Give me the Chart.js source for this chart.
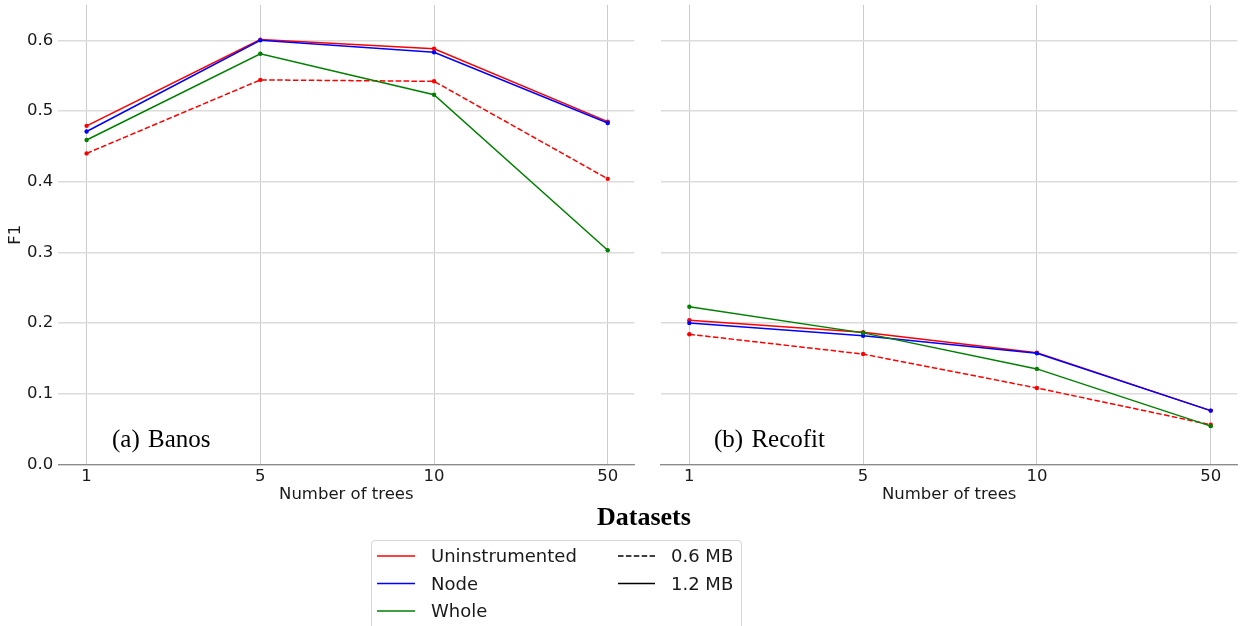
<!DOCTYPE html>
<html>
<head>
<meta charset="utf-8">
<script src="https://cdn.jsdelivr.net/npm/chart.js@4"></script>
<style>
  html, body { margin: 0; padding: 0; background: #ffffff; }
  body { width: 1245px; height: 626px; position: relative; overflow: hidden; }
  canvas { position: absolute; top: 0; }
  .ann { position: absolute; font-family: "Liberation Serif", "DejaVu Serif", serif; color: #000; white-space: nowrap; line-height: 1; }
  .leg { position: absolute; font-family: "DejaVu Sans", sans-serif; font-size: 18px; color: #1a1a1a; white-space: nowrap; line-height: 1; }
  #legendBox { position: absolute; left: 371px; top: 540px; width: 371px; height: 100px; border: 1px solid #d6d6d6; border-radius: 4px; box-sizing: border-box; background: #fff; }
</style>
</head>
<body>
<canvas id="c1" width="645" height="510" style="left:0px"></canvas>
<canvas id="c2" width="600" height="510" style="left:645px"></canvas>

<div class="ann" style="left:112px; top:426px; font-size:25px; word-spacing:2px;">(a) Banos</div>
<div class="ann" style="left:714px; top:426px; font-size:25px; word-spacing:2px;">(b) Recofit</div>
<div class="ann" style="left:597px; top:504px; font-size:26px; font-weight:bold;">Datasets</div>

<div id="legendBox"></div>
<svg style="position:absolute; left:0; top:0;" width="1245" height="626">
  <line x1="377" y1="556" x2="415" y2="556" stroke="#ff0000" stroke-width="1.6"/>
  <line x1="377" y1="583.5" x2="415" y2="583.5" stroke="#0000ff" stroke-width="1.6"/>
  <line x1="377" y1="611" x2="415" y2="611" stroke="#008000" stroke-width="1.6"/>
  <line x1="618" y1="556" x2="655" y2="556" stroke="#000" stroke-width="1.6" stroke-dasharray="5.5,2.4"/>
  <line x1="618" y1="583.5" x2="655" y2="583.5" stroke="#000" stroke-width="1.6"/>
</svg>
<div class="leg" style="left:431px; top:547px;">Uninstrumented</div>
<div class="leg" style="left:431px; top:574.5px;">Node</div>
<div class="leg" style="left:431px; top:602px;">Whole</div>
<div class="leg" style="left:671px; top:547px;">0.6 MB</div>
<div class="leg" style="left:671px; top:574.5px;">1.2 MB</div>

<script>
// ---- data ----
const xLabels = ['1', '5', '10', '50'];
const yTickValues = [0.0, 0.1, 0.2, 0.3, 0.4, 0.5, 0.6];

const banosUninst12 = [0.479, 0.601, 0.588, 0.485];
const banosNode12   = [0.471, 0.600, 0.583, 0.483];
const banosWhole12  = [0.459, 0.581, 0.523, 0.303];
const banosUninst06 = [0.440, 0.544, 0.542, 0.404];

const recofitUninst12 = [0.204, 0.187, 0.158, 0.076];
const recofitNode12   = [0.200, 0.182, 0.157, 0.076];
const recofitWhole12  = [0.223, 0.186, 0.135, 0.054];
const recofitUninst06 = [0.184, 0.156, 0.108, 0.056];

// ---- helpers ----
const RED = '#ff0000', BLUE = '#0000ff', GREEN = '#008000';
function pts(arr) { return arr.map((v, i) => ({ x: i, y: v })); }
function ds(label, arr, color, dashed, order) {
  return {
    label: label,
    data: pts(arr),
    borderColor: color,
    backgroundColor: color,
    borderWidth: 1.5,
    borderDash: dashed ? [5.5, 2.4] : [],
    pointRadius: 2.2,
    pointHoverRadius: 2.2,
    pointBorderWidth: 0,
    pointBackgroundColor: color,
    tension: 0,
    fill: false,
    order: order
  };
}

function makeChart(id, sets, showY, yWidth, padRight) {
  return new Chart(document.getElementById(id), {
    type: 'line',
    data: { datasets: sets },
    options: {
      responsive: false,
      animation: false,
      devicePixelRatio: 1,
      layout: { padding: { left: 0, top: 5, right: padRight, bottom: 0 } },
      plugins: { legend: { display: false }, tooltip: { enabled: false } },
      scales: {
        x: {
          type: 'linear',
          min: -0.163,
          max: 3.153,
          afterBuildTicks: (s) => { s.ticks = xLabels.map((_, i) => ({ value: i })); },
          afterFit: (s) => { s.height = 45.7; s.paddingLeft = 0; s.paddingRight = 0; },
          ticks: {
            autoSkip: false, maxRotation: 0, padding: 3,
            color: '#1a1a1a',
            font: { family: 'DejaVu Sans', size: 16.5 },
            callback: (v) => xLabels[v]
          },
          grid: { color: '#cccccc', lineWidth: 1, drawTicks: false },
          border: { display: true, color: '#8a8a8a', width: 1.2 },
          title: {
            display: true, text: 'Number of trees', color: '#1a1a1a',
            font: { family: 'DejaVu Sans', size: 16.5 },
            padding: { top: 0, bottom: 5 }
          }
        },
        y: {
          min: 0,
          max: 0.65,
          afterBuildTicks: (s) => { s.ticks = yTickValues.map(v => ({ value: v })); },
          afterFit: (s) => { s.width = yWidth; s.paddingTop = 0; s.paddingBottom = 0; },
          ticks: {
            display: showY, padding: 5,
            color: '#1a1a1a',
            font: { family: 'DejaVu Sans', size: 16.5 },
            callback: (v) => Number(v).toFixed(1)
          },
          grid: { color: '#dcdcdc', lineWidth: 1.5, drawTicks: false },
          border: { display: false },
          title: {
            display: showY, text: 'F1', color: '#1a1a1a',
            font: { family: 'DejaVu Sans', size: 16.5 },
            padding: { top: 6, bottom: 0 }
          }
        }
      }
    }
  });
}

makeChart('c1', [
  ds('Uninstrumented 1.2 MB', banosUninst12, RED, false, 3),
  ds('Uninstrumented 0.6 MB', banosUninst06, RED, true, 2),
  ds('Node 1.2 MB', banosNode12, BLUE, false, 1),
  ds('Whole 1.2 MB', banosWhole12, GREEN, false, 0)
], true, 58.3, 10.7);

makeChart('c2', [
  ds('Uninstrumented 1.2 MB', recofitUninst12, RED, false, 3),
  ds('Uninstrumented 0.6 MB', recofitUninst06, RED, true, 2),
  ds('Node 1.2 MB', recofitNode12, BLUE, false, 1),
  ds('Whole 1.2 MB', recofitWhole12, GREEN, false, 0)
], false, 16, 7.7);
</script>
</body>
</html>
